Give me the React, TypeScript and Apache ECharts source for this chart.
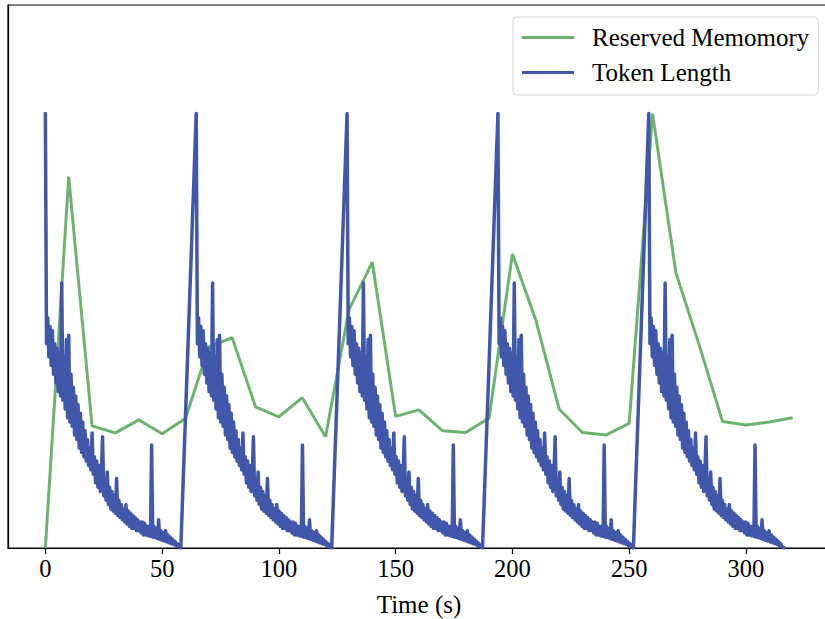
import React, { useEffect, useRef } from "react";
import * as echarts from "echarts";

// Reserved memory, sampled every 10 s (normalised)
const memTimes = [0, 10, 20, 30, 40, 50, 60, 70, 80, 90, 100, 110, 120, 130, 140, 150, 160, 170, 180, 190, 200, 210, 220, 230, 240, 250, 260, 270, 280, 290, 300, 310, 320];
const memValues = [0, 0.855, 0.281, 0.265, 0.295, 0.263, 0.298, 0.463, 0.484, 0.325, 0.302, 0.346, 0.256, 0.548, 0.658, 0.303, 0.318, 0.27, 0.266, 0.299, 0.677, 0.525, 0.32, 0.266, 0.26, 0.287, 1.0, 0.634, 0.467, 0.291, 0.283, 0.29, 0.3];

// Token length within one request cycle, one sample every 0.5 s (normalised)
const TOKEN_DT = 0.5;
const tokenCycle = [
  1.0, 0.47, 0.53, 0.44, 0.51, 0.42, 0.5, 0.4, 0.47, 0.38,
  0.46, 0.36, 0.45, 0.35, 0.61, 0.34, 0.44, 0.32, 0.48, 0.3,
  0.49, 0.29, 0.4, 0.28, 0.37, 0.26, 0.35, 0.25, 0.33, 0.23,
  0.31, 0.22, 0.29, 0.21, 0.27, 0.2, 0.25, 0.19, 0.23, 0.18,
  0.265, 0.17, 0.21, 0.15, 0.2, 0.14, 0.19, 0.13, 0.17, 0.256,
  0.12, 0.16, 0.11, 0.175, 0.1, 0.14, 0.09, 0.13, 0.085, 0.12,
  0.08, 0.16, 0.075, 0.11, 0.07, 0.1, 0.065, 0.09, 0.06, 0.1,
  0.055, 0.085, 0.05, 0.08, 0.045, 0.075, 0.045, 0.07, 0.04, 0.065,
  0.04, 0.06, 0.035, 0.06, 0.03, 0.057, 0.03, 0.05, 0.028, 0.05,
  0.027, 0.237, 0.025, 0.05, 0.024, 0.045, 0.022, 0.065, 0.02, 0.04,
  0.018, 0.035, 0.016, 0.04, 0.014, 0.03, 0.012, 0.025, 0.01, 0.02,
  0.008, 0.015, 0.005, 0.01, 0.003, 0.002, 0
];
// start time of each cycle (s)
const cycleStarts = [0, 64.6, 129.2, 193.8, 258.4];

const xTicks = [0, 50, 100, 150, 200, 250, 300];
const seriesNames = ["Reserved Memomory", "Token Length"];

export default function App() {
  const ref = useRef<HTMLDivElement>(null);
  useEffect(() => {
    if (!ref.current) return;
    const chart = echarts.init(ref.current, undefined, { renderer: "svg" });
    const memData = memTimes.map((t, i) => [t, memValues[i]]);
    const tokenData: number[][] = [];
    cycleStarts.forEach((s) => {
      tokenCycle.forEach((v, i) => tokenData.push([s + i * TOKEN_DT, v]));
    });
    const font = "'Times New Roman', 'Liberation Serif', Times, serif";
    chart.setOption({
      animation: false,
      backgroundColor: "#fff",
      textStyle: { fontFamily: font },
      grid: {
        left: 8,
        top: 5,
        width: 822,
        bottom: 71,
        outerBoundsMode: "none",
        containLabel: false,
        show: true,
        borderColor: "#000",
        borderWidth: 1.2,
        backgroundColor: "transparent",
      },
      legend: {
        orient: "vertical",
        left: 513,
        top: 17,
        padding: [8, 9, 10, 9],
        icon: "rect",
        itemWidth: 52,
        itemHeight: 3,
        itemGap: 10,
        backgroundColor: "#fff",
        borderColor: "#d4d4d4",
        borderWidth: 1,
        borderRadius: 4,
        data: seriesNames,
        textStyle: {
          fontFamily: font,
          fontSize: 25,
          color: "#000",
          lineHeight: 25,
          padding: [0, 0, 0, 13],
        },
      },
      xAxis: {
        type: "value",
        min: -16,
        max: 336,
        interval: 50,
        axisLine: { show: true, onZero: false, lineStyle: { color: "#000", width: 1.2 } },
        axisTick: { show: true, length: 6, lineStyle: { color: "#000", width: 1.2 }, customValues: xTicks },
        axisLabel: {
          customValues: xTicks,
          fontFamily: font,
          fontSize: 24.5,
          color: "#000",
          margin: 8,
        },
        splitLine: { show: false },
        name: "Time (s)",
        nameLocation: "middle",
        nameGap: 44,
        nameTextStyle: { fontFamily: font, fontSize: 25, color: "#000" },
      },
      yAxis: {
        type: "value",
        min: 0,
        max: 1.25,
        axisLine: { show: true, onZero: false, lineStyle: { color: "#000", width: 1.2 } },
        axisTick: { show: false },
        axisLabel: { show: false },
        splitLine: { show: false },
      },
      series: [
        {
          name: seriesNames[0],
          type: "line",
          data: memData,
          symbol: "none",
          lineStyle: { color: "#6db36e", width: 3 },
          itemStyle: { color: "#6db36e" },
          z: 2,
        },
        {
          name: seriesNames[1],
          type: "line",
          data: tokenData,
          symbol: "none",
          lineStyle: { color: "#4158aa", width: 3.5, join: "round", cap: "round" },
          itemStyle: { color: "#4158aa" },
          z: 3,
        },
      ],
    });
    return () => chart.dispose();
  }, []);
  return <div ref={ref} style={{ width: 825, height: 619, position: "absolute", left: 0, top: 0 }} />;
}
